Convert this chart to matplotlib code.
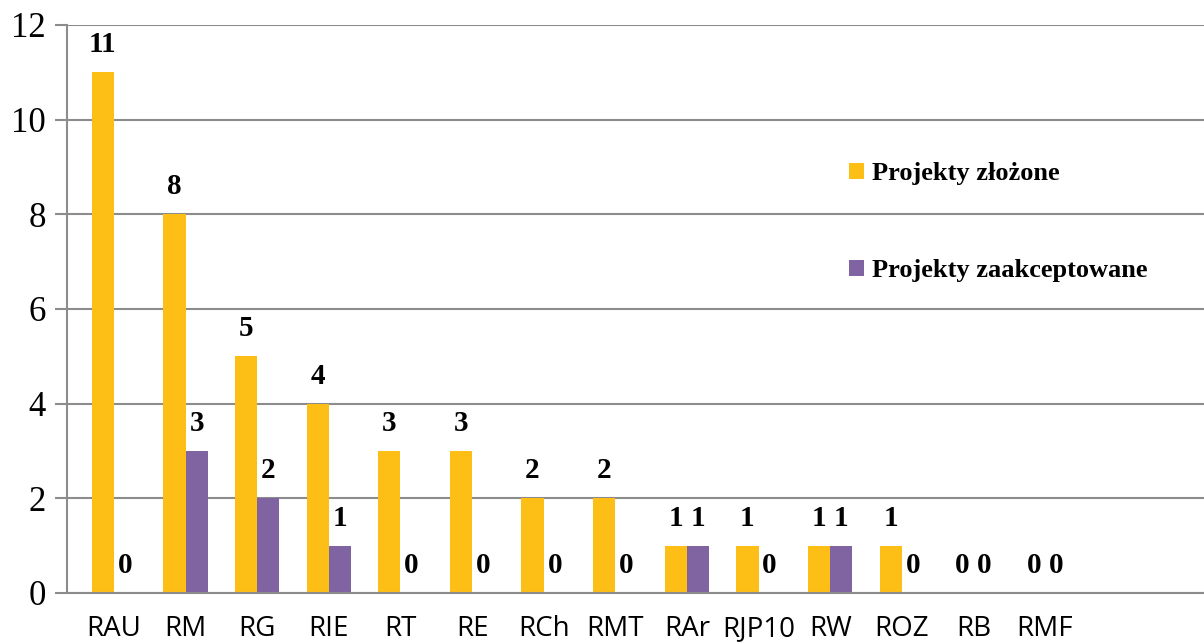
import matplotlib.pyplot as plt
import numpy as np

kategorie = ["RAU", "RM", "RG", "RIE", "RT", "RE", "RCh", "RMT", "RAr", "RJP10", "RW", "ROZ", "RB", "RMF"]
zlozone = [11, 8, 5, 4, 3, 3, 2, 2, 1, 1, 1, 1, 0, 0]
zaakceptowane = [0, 3, 2, 1, 0, 0, 0, 0, 1, 0, 1, 0, 0, 0]

zolty = "#FDBF16"
fiolet = "#8064A2"
szary = "#8C8C8C"

fig = plt.figure(figsize=(12.04, 6.44), dpi=100)
ax = fig.add_axes([0.0556, 0.0792, 0.9444, 0.882])

x = np.arange(len(kategorie))
w = 0.31
b1 = ax.bar(x - w / 2, zlozone, w, color=zolty, label="Projekty złożone")
b2 = ax.bar(x + w / 2, zaakceptowane, w, color=fiolet, label="Projekty zaakceptowane")

# etykiety nad slupkami
for bars in (b1, b2):
    for r in bars:
        ax.annotate(str(int(r.get_height())), (r.get_x() + r.get_width() / 2, r.get_height()),
                    xytext=(0, 10), textcoords="offset points", ha="center", va="bottom",
                    fontsize=21, fontweight="bold", family="Liberation Serif")

ax.set_ylim(0, 12)
ax.set_xlim(-0.656, 15.22)
ax.set_yticks(range(0, 13, 2))
ax.set_yticklabels([str(v) for v in range(0, 13, 2)], fontsize=25, family="Liberation Serif")
ax.set_xticks(x)
ax.set_xticklabels(kategorie, fontsize=20, family="Open Sans")
ax.tick_params(axis="x", length=0, pad=16)
ax.tick_params(axis="y", length=9, width=1.5, color=szary, pad=6)

ax.yaxis.grid(True, color=szary, linewidth=1.5)
ax.set_axisbelow(True)
for s in ("top", "right"):
    ax.spines[s].set_visible(False)
ax.spines["left"].set_color(szary)
ax.spines["left"].set_linewidth(1.5)
ax.spines["bottom"].set_color(szary)
ax.spines["bottom"].set_linewidth(1.5)

leg = ax.legend(loc="upper left", bbox_to_anchor=(0.667, 0.80), frameon=False,
                handlelength=0.55, handleheight=0.55, handletextpad=0.3, labelspacing=2.8,
                prop={"family": "Liberation Serif", "weight": "bold", "size": 19})

fig.savefig("out.png", dpi=100)
